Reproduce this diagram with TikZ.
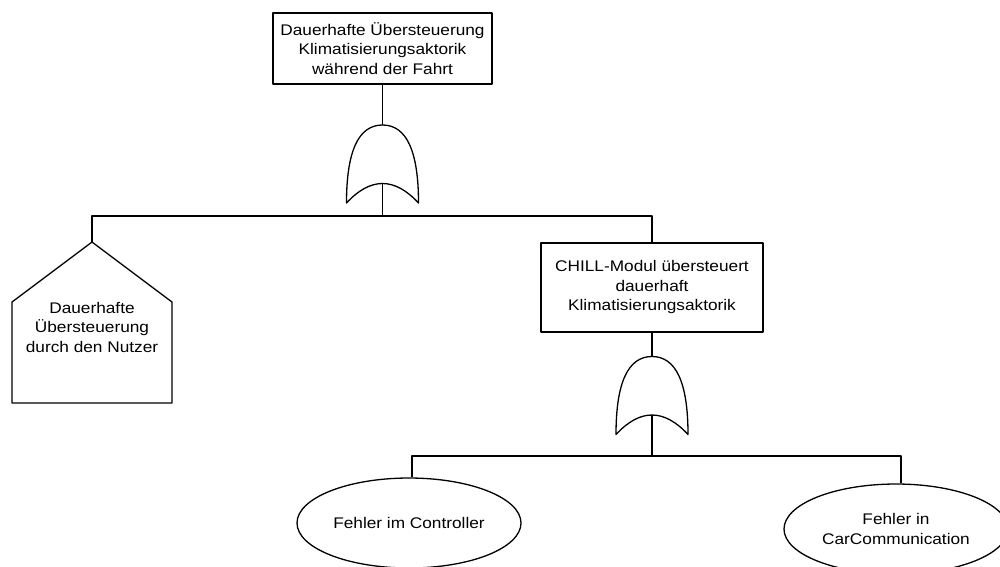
\documentclass[tikz,border=0pt]{standalone}
\usepackage{fontspec}
\setmainfont{Liberation Sans}[FakeStretch=1.12]
\usetikzlibrary{shapes.geometric,calc}

\tikzset{
  diag/.style={line width=1.3pt, line join=round},
  txt/.style={font=\fontsize{15.4}{19.5}\selectfont, align=center, inner sep=0pt},
  eventbox/.style={diag, draw, txt, rectangle},
  basicevent/.style={diag, draw, txt, ellipse, minimum width=224pt, minimum height=90pt},
  orgate/.pic={
    \draw[diag] (-36,78) .. controls (-36,26) and (-24,0) .. (0,0)
      .. controls (24,0) and (36,26) .. (36,78)
      .. controls (12,52) and (-12,52) .. (-36,78) -- cycle;
    \coordinate (-top) at (0,0);
    \coordinate (-in) at (0,58.5);
  }
}

\begin{document}
\begin{tikzpicture}[x=1pt, y=-1pt]
  \useasboundingbox (0,0) rectangle (1000,566);
  \clip (0,0) rectangle (1000,566);

  % top event
  \node[eventbox, minimum width=219pt, minimum height=71pt] (top) at (382.5,48.5)
    {Dauerhafte Übersteuerung\\Klimatisierungsaktorik\\während der Fahrt};
  \pic (g1) at (382.5,125) {orgate};

  % house event (user override)
  \coordinate (hApex) at (92,242);
  \draw[diag] (12,403) -- (12,302) -- (hApex) -- (172,302) -- (172,403) -- cycle;
  \node[txt] (user) at (92,327) {Dauerhafte\\Übersteuerung\\durch den Nutzer};

  % intermediate event
  \node[eventbox, minimum width=222pt, minimum height=89pt] (chill) at (652,287.5)
    {CHILL-Modul übersteuert\\dauerhaft\\Klimatisierungsaktorik};
  \pic (g2) at (652,356.5) {orgate};

  % basic events
  \node[basicevent] (ctrl) at (409,523) {Fehler im Controller};
  \node[basicevent] (car) at (896,529) {Fehler in\\CarCommunication};

  % bus lines
  \coordinate (bus1) at (0,216);
  \coordinate (bus2) at (0,456);

  % connectors
  \draw[diag] (top.south) -- (g1-top);
  \draw[diag] (g1-in) -- (g1-in |- bus1);
  \draw[diag] (hApex) -- (hApex |- bus1) -| (chill.north);

  \draw[diag] (chill.south) -- (g2-top);
  \draw[diag] (g2-in) -- (g2-in |- bus2);
  \draw[diag] ([xshift=3pt]ctrl.north) -- ([xshift=3pt]ctrl.north |- bus2)
    -- ([xshift=5pt]car.north |- bus2) -- ([xshift=5pt]car.north);
\end{tikzpicture}
\end{document}
